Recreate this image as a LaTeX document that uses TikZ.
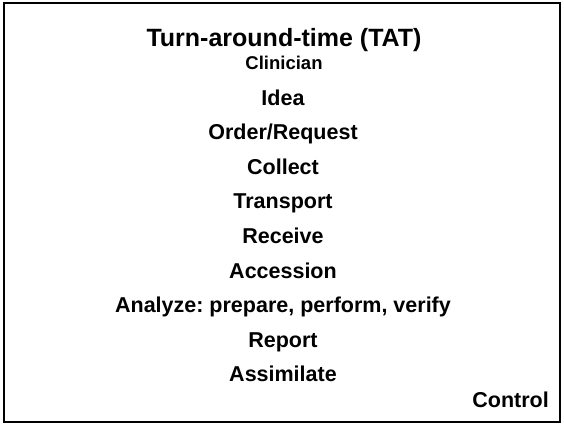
\documentclass[tikz,border=0pt]{standalone}
\usepackage{fontspec}
\setmainfont{Liberation Sans}
\frenchspacing
\begin{document}
\begin{tikzpicture}[x=1pt,y=1pt,
  item/.style={anchor=base, inner sep=0pt, font=\frenchspacing\bfseries\fontsize{21.5}{24}\selectfont},
  titletext/.style={anchor=base, inner sep=0pt, font=\bfseries\fontsize{25}{28}\selectfont},
  subtext/.style={anchor=base, inner sep=0pt, font=\bfseries\fontsize{18.5}{21}\selectfont}]
\useasboundingbox (0,0) rectangle (564,424);
\draw[line width=2pt] (4,2) rectangle (560,421);
\node[titletext] (title) at (284,377) {Turn-around-time (TAT)};
\node[subtext] (clin) at (284,354) {Clinician};
\node[item] (idea) at (283,319) {Idea};
\node[item] (order) at (283,284.4) {Order/Request};
\node[item] (collect) at (283,249.8) {Collect};
\node[item] (transport) at (283,215.2) {Transport};
\node[item] (receive) at (283,180.6) {Receive};
\node[item] (accession) at (283,146) {Accession};
\node[item] (analyze) at (283,111.4) {Analyze: prepare, perform, verify};
\node[item] (report) at (283,76.8) {Report};
\node[item] (assim) at (283,42.2) {Assimilate};
\node[item, anchor=base east] (control) at (549,17) {Control};
\end{tikzpicture}
\end{document}
